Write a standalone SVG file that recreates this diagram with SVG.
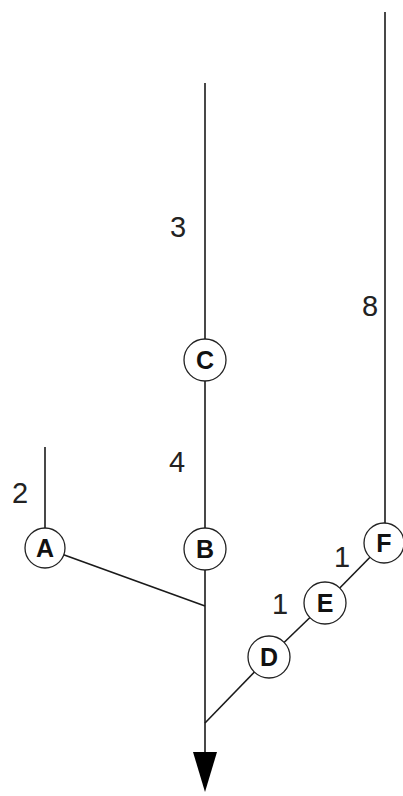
<svg xmlns="http://www.w3.org/2000/svg" width="403" height="796" viewBox="0 0 403 796">
<style>
.edge{stroke:#1a1a1a;stroke-width:1.6;fill:none}
.node circle{fill:#fff;stroke:#222;stroke-width:1.3}
.node text{font-family:"Liberation Sans",Arial,sans-serif;font-weight:bold;font-size:25px;fill:#111;text-anchor:middle}
.lbl{font-family:"Liberation Sans",Arial,sans-serif;font-size:29px;fill:#222}
</style>
<rect width="403" height="796" fill="#fff"/>
<g id="connectors">
<line class="edge" x1="45" y1="447" x2="45" y2="548"/>
<line class="edge" x1="205" y1="83" x2="205" y2="752"/>
<line class="edge" x1="385" y1="12" x2="385" y2="543"/>
<line class="edge" x1="45" y1="548" x2="205" y2="606"/>
<line class="edge" x1="205" y1="723" x2="269" y2="657"/>
<line class="edge" x1="269" y1="657" x2="325" y2="603"/>
<line class="edge" x1="325" y1="603" x2="384" y2="543"/>
<polygon points="193,752 217,752 205,792" fill="#000"/>
</g>
<g id="labels">
<text class="lbl" x="12" y="503">2</text>
<text class="lbl" x="170" y="237">3</text>
<text class="lbl" x="169" y="472">4</text>
<text class="lbl" x="362" y="316">8</text>
<text class="lbl" x="272" y="614">1</text>
<text class="lbl" x="334" y="567">1</text>
</g>
<g id="A" class="node"><circle cx="45" cy="548" r="20"/><text x="45" y="557">A</text></g>
<g id="B" class="node"><circle cx="205" cy="549" r="21"/><text x="205" y="558">B</text></g>
<g id="C" class="node"><circle cx="205" cy="360" r="21"/><text x="205" y="369">C</text></g>
<g id="D" class="node"><circle cx="269" cy="657" r="21"/><text x="269" y="666">D</text></g>
<g id="E" class="node"><circle cx="325" cy="603" r="21"/><text x="325" y="612">E</text></g>
<g id="F" class="node"><circle cx="384" cy="543" r="20"/><text x="384" y="552">F</text></g>
</svg>
